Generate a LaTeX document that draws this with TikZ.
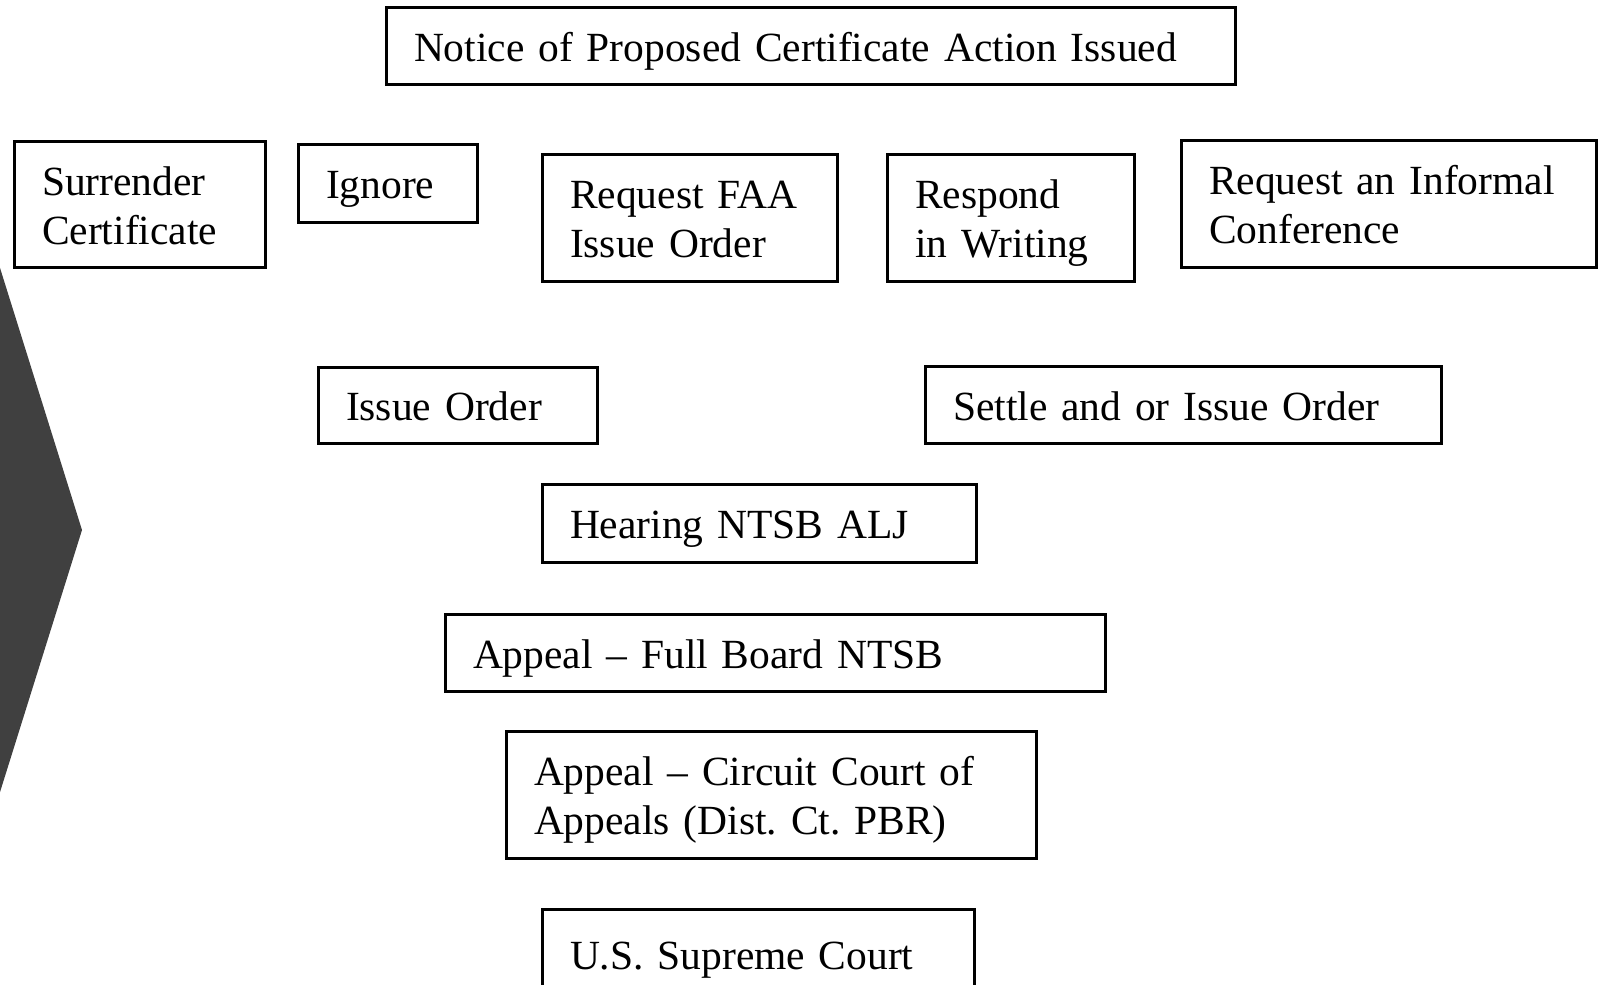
\documentclass[tikz,border=0pt]{standalone}
\usepackage{fontspec}
\setmainfont{Liberation Serif}
\frenchspacing
\definecolor{chevrongray}{HTML}{404040}
\tikzset{
    stage/.style={draw, line width=3pt, inner xsep=28pt, inner ysep=0pt,
        align=left, font=\fontsize{41.5}{49}\selectfont,
        execute at begin node={\rule{0pt}{41pt}},
        execute at end node={\rule[-10pt]{0pt}{0pt}}},
}

\begin{document}
\begin{tikzpicture}[x=1pt,y=-1pt]
    \useasboundingbox (0,0) rectangle (1601,985);
    \fill[white] (0,0) rectangle (1601,985);
    \clip (0,0) rectangle (1601,985);

    % chevron on the left edge
    \fill[chevrongray] (-30,172) -- (82,530) -- (-30,888) -- cycle;

    % top row
    \node[stage, text width=793pt, minimum height=77pt] (notice) at (810.5,45.5)
        {Notice of Proposed Certificate Action Issued};

    % responses
    \node[stage, text width=195pt, minimum height=126pt] (surrender) at (139.5,204)
        {Surrender\\Certificate};
    \node[stage, text width=123pt, minimum height=78pt] (ignore) at (387.5,183)
        {Ignore};
    \node[stage, text width=239pt, minimum height=127pt] (faaorder) at (689.5,217.5)
        {Request FAA\\Issue Order};
    \node[stage, text width=191pt, minimum height=127pt] (respond) at (1010.5,217.5)
        {Respond\\in Writing};
    \node[stage, text width=359pt, minimum height=127pt] (informal) at (1388.5,203.5)
        {Request an Informal\\Conference};

    % outcomes
    \node[stage, text width=223pt, minimum height=76pt] (issue) at (457.5,405)
        {Issue Order};
    \node[stage, text width=460pt, minimum height=77pt] (settle) at (1183,404.5)
        {Settle and or Issue Order};

    % appeals
    \node[stage, text width=378pt, minimum height=78pt] (hearing) at (759,523)
        {Hearing NTSB ALJ};
    \node[stage, text width=604pt, minimum height=77pt] (board) at (775,652.5)
        {Appeal -- Full Board NTSB};
    \node[stage, text width=474pt, minimum height=127pt] (circuit) at (771,794.5)
        {Appeal -- Circuit Court of\\Appeals (Dist. Ct. PBR)};
    \node[stage, text width=376pt, minimum height=90pt] (supreme) at (758,954)
        {U.S. Supreme Court};
\end{tikzpicture}
\end{document}
